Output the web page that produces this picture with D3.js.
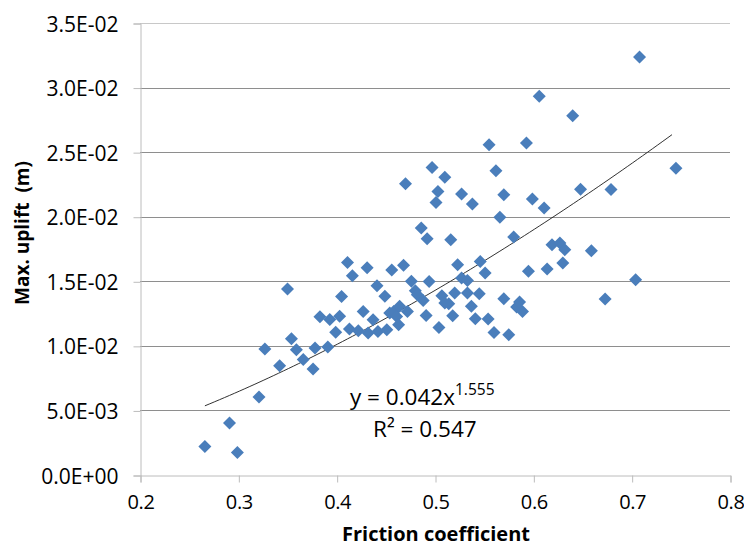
<!DOCTYPE html>
<html>
<head>
<meta charset="utf-8">
<script src="https://cdn.jsdelivr.net/npm/d3@7"></script>
<style>
  body { margin: 0; background: #fff; }
  text { font-family: "Open Sans", "Noto Sans", sans-serif; fill: #000; }
</style>
</head>
<body>
<div id="chart"></div>
<script>

// friction coefficient (x) and max. uplift in m (y)
var friction = [
  0.266, 0.291, 0.299, 0.321, 0.327, 0.342, 0.350, 0.354, 0.359, 0.366,
  0.376, 0.378, 0.383, 0.391, 0.393, 0.399, 0.403, 0.405, 0.411, 0.413,
  0.416, 0.422, 0.427, 0.431, 0.432, 0.437, 0.441, 0.442, 0.449, 0.451,
  0.454, 0.456, 0.458, 0.461, 0.463, 0.464, 0.468, 0.470, 0.472, 0.476,
  0.480, 0.482, 0.486, 0.488, 0.491, 0.492, 0.494, 0.497, 0.501, 0.503,
  0.504, 0.507, 0.510, 0.510, 0.514, 0.516, 0.518, 0.520, 0.523, 0.527,
  0.527, 0.533, 0.533, 0.537, 0.538, 0.541, 0.545, 0.546, 0.551, 0.554,
  0.555, 0.560, 0.562, 0.566, 0.570, 0.570, 0.575, 0.580, 0.583, 0.586,
  0.589, 0.593, 0.595, 0.599, 0.606, 0.611, 0.614, 0.619, 0.627, 0.630,
  0.632, 0.640, 0.648, 0.659, 0.673, 0.679, 0.704, 0.708, 0.745
];
var uplift = [
  0.00221, 0.00403, 0.00175, 0.00604, 0.00976, 0.00846, 0.01440, 0.01055, 0.00970, 0.00895,
  0.00820, 0.00983, 0.01225, 0.00991, 0.01205, 0.01105, 0.01230, 0.01383, 0.01646, 0.01130,
  0.01543, 0.01117, 0.01267, 0.01605, 0.01100, 0.01202, 0.01466, 0.01112, 0.01385, 0.01125,
  0.01254, 0.01587, 0.01267, 0.01228, 0.01164, 0.01306, 0.01625, 0.02255, 0.01267, 0.01500,
  0.01427, 0.01396, 0.01913, 0.01352, 0.01236, 0.01830, 0.01499, 0.02382, 0.02111, 0.02196,
  0.01143, 0.01388, 0.02305, 0.01332, 0.01326, 0.01822, 0.01234, 0.01409, 0.01628, 0.02176,
  0.01525, 0.01507, 0.01409, 0.01306, 0.02098, 0.01210, 0.01404, 0.01654, 0.01564, 0.01208,
  0.02557, 0.01104, 0.02356, 0.01995, 0.02170, 0.01365, 0.01086, 0.01843, 0.01301, 0.01340,
  0.01267, 0.02571, 0.01577, 0.02137, 0.02932, 0.02067, 0.01595, 0.01783, 0.01796, 0.01642,
  0.01745, 0.02782, 0.02212, 0.01736, 0.01363, 0.02210, 0.01512, 0.03237, 0.02376
];

var xTicks = [0.2, 0.3, 0.4, 0.5, 0.6, 0.7, 0.8];
var yTicks = [0, 0.005, 0.01, 0.015, 0.02, 0.025, 0.03, 0.035];

// power trendline y = a * x^b
var trendA = 0.042;
var trendB = 1.555;
var trendR2 = 0.547;

var width = 744, height = 549;
var plotLeft = 140, plotRight = 730, plotTop = 23, plotBottom = 475;

var svg = d3.select("#chart")
    .append("svg")
    .attr("width", width)
    .attr("height", height);

svg.append("rect")
    .attr("width", width)
    .attr("height", height)
    .attr("fill", "white");

var x = d3.scaleLinear().domain([0.2, 0.8]).range([plotLeft, plotRight]);
var y = d3.scaleLinear().domain([0, 0.035]).range([plotBottom, plotTop]);

function sci(v) {
    var s = v.toExponential(1).split("e");
    var exp = parseInt(s[1], 10);
    var sign = exp < 0 ? "-" : "+";
    var mag = Math.abs(exp);
    return s[0] + "E" + sign + (mag < 10 ? "0" : "") + mag;
}

// horizontal gridlines
svg.append("g")
    .selectAll("line")
    .data(yTicks.slice(1))
    .enter().append("line")
    .attr("x1", plotLeft)
    .attr("x2", plotRight)
    .attr("y1", function(d) { return Math.round(y(d)) + 0.5; })
    .attr("y2", function(d) { return Math.round(y(d)) + 0.5; })
    .attr("stroke", function(d, i) { return i == yTicks.length - 2 ? "#c8c8c8" : "#8e8e8e"; })
    .attr("stroke-width", 1);

// y axis
var yAxis = svg.append("g")
    .attr("transform", "translate(" + (plotLeft + 0.5) + ",0.5)")
    .call(d3.axisLeft(y).tickValues(yTicks).tickFormat(sci).tickSize(7).tickPadding(15));

// x axis
var xAxis = svg.append("g")
    .attr("transform", "translate(0.5," + (plotBottom + 0.5) + ")")
    .call(d3.axisBottom(x).tickValues(xTicks).tickFormat(d3.format(".1f")).tickSize(7).tickPadding(12));

[xAxis, yAxis].forEach(function(ax) {
    ax.select(".domain").attr("stroke", "#bcbcbc");
    ax.selectAll(".tick line").attr("stroke", "#bcbcbc");
    ax.selectAll(".tick text")
        .attr("fill", "#000")
        .style("font-family", "'Open Sans', sans-serif")
        .style("font-size", "21px");
});
yAxis.selectAll(".tick text").attr("dy", "0.36em");
xAxis.selectAll(".tick text")
    .style("font-size", "20px")
    .style("letter-spacing", "-0.4px");

// trendline
var trendX = d3.range(d3.min(friction), d3.max(friction) + 0.0001, 0.005);
var line = d3.line()
    .x(function(d) { return x(d); })
    .y(function(d) { return y(trendA * Math.pow(d, trendB)); });

svg.append("path")
    .datum(trendX)
    .attr("d", line)
    .attr("fill", "none")
    .attr("stroke", "#1a1a1a")
    .attr("stroke-width", 0.9);

// points
var pts = friction.map(function(f, i) { return { x: f, y: uplift[i] }; });
var h = 6.5;
svg.append("g")
    .selectAll("path")
    .data(pts)
    .enter().append("path")
    .attr("d", "M0," + (-h) + "L" + h + ",0L0," + h + "L" + (-h) + ",0Z")
    .attr("transform", function(d) { return "translate(" + x(d.x) + "," + y(d.y) + ")"; })
    .attr("fill", "#4a7ebb");

// equation
var eq = svg.append("text")
    .attr("x", 350)
    .attr("y", 405)
    .style("font-size", "22.5px");
eq.append("tspan").text("y = " + trendA + "x");
eq.append("tspan")
    .attr("dy", -10)
    .style("font-size", "15.5px")
    .text(trendB.toFixed(3));

svg.append("text")
    .attr("x", 373)
    .attr("y", 437)
    .style("font-size", "22.5px")
    .text("R\u00b2 = " + trendR2);

// axis titles
svg.append("text")
    .attr("x", 436)
    .attr("y", 541)
    .attr("text-anchor", "middle")
    .style("font-size", "20px")
    .style("font-weight", "bold")
    .text("Friction coefficient");

svg.append("text")
    .attr("transform", "translate(29,233) rotate(-90)")
    .attr("text-anchor", "middle")
    .style("font-size", "19px")
    .style("font-weight", "bold")
    .style("white-space", "pre")
    .text("Max. uplift  (m)");

</script>
</body>
</html>
